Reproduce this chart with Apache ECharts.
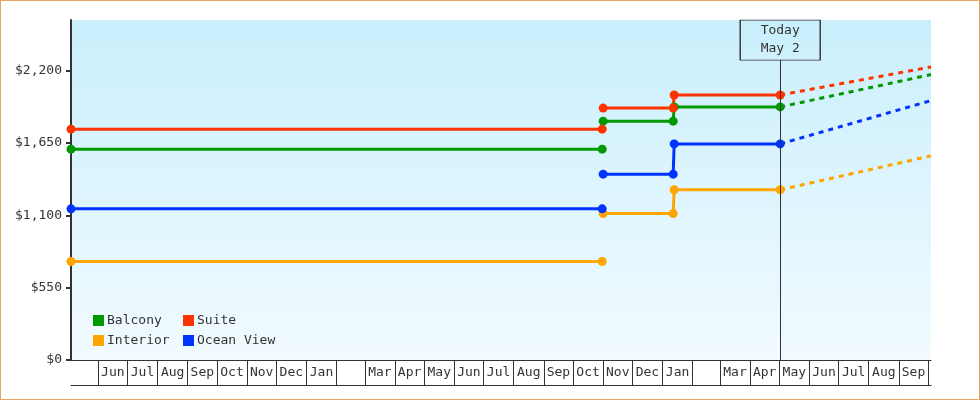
<!DOCTYPE html>
<html>
<head>
<meta charset="utf-8">
<script src="https://cdn.jsdelivr.net/npm/echarts@6.0.0/dist/echarts.min.js"></script>
<style>
  html, body { margin: 0; padding: 0; background: #ffffff; }
  #chart { width: 980px; height: 400px; box-sizing: border-box; border: 1px solid #e9a862; background: #ffffff; }
</style>
</head>
<body>
<div id="chart"></div>
<script>
// ---------------- DATA ----------------
const seriesNames   = ['Balcony', 'Suite', 'Interior', 'Ocean View'];
const seriesColors  = ['#009900', '#ff3300', '#ffa500', '#0033ff'];

// price periods: [start, end] ; period 1 -> 2 is not connected, 2 -> 3 is connected
const periodStarts  = ['2023-05-04', '2024-11-01', '2025-01-13'];
const periodEnds    = ['2024-10-31', '2025-01-12', '2025-05-02'];
const periodJoined  = [false, true];

const balconyPrices   = [1603, 1816, 1924];
const suitePrices     = [1755, 1915, 2015];
const interiorPrices  = [749, 1114, 1294];
const oceanViewPrices = [1149, 1413, 1643];

// forecast (dashed) end values
const forecastDate    = '2025-10-04';
const forecastPrices  = [2170, 2228, 1552, 1972];

const todayDate  = '2025-05-02';
const todayLabel = 'Today\nMay 2';

const axisStart = '2023-05-04';
const axisEnd   = '2025-10-04';

const monthStarts = ['2023-06-01','2023-07-01','2023-08-01','2023-09-01','2023-10-01','2023-11-01','2023-12-01',
  '2024-01-01','2024-02-01','2024-03-01','2024-04-01','2024-05-01','2024-06-01','2024-07-01','2024-08-01',
  '2024-09-01','2024-10-01','2024-11-01','2024-12-01','2025-01-01','2025-02-01','2025-03-01','2025-04-01',
  '2025-05-01','2025-06-01','2025-07-01','2025-08-01','2025-09-01','2025-10-01'];
const monthLabels = ['Jun','Jul','Aug','Sep','Oct','Nov','Dec','Jan','','Mar','Apr','May','Jun','Jul','Aug',
  'Sep','Oct','Nov','Dec','Jan','','Mar','Apr','May','Jun','Jul','Aug','Sep'];

const yTicks = [0, 550, 1100, 1650, 2200];
const yMax = 2585;
const todayBoxValue = 2432;   // annotation box centre (value units)
const todayLineTop  = 2281;   // annotation line top (value units)

// ---------------- BUILD ----------------
function ts(s) { const p = s.split('-').map(Number); return new Date(p[0], p[1] - 1, p[2]).getTime(); }
const allPrices = [balconyPrices, suitePrices, interiorPrices, oceanViewPrices];
const FONT = '"DejaVu Sans Mono", "Liberation Mono", monospace';
const TXT = '#333333';

const labelMap = new Map();
const labelValues = [];
for (let i = 0; i < monthLabels.length; i++) {
  if (!monthLabels[i]) continue;
  const mid = Math.round((ts(monthStarts[i]) + ts(monthStarts[i + 1])) / 2);
  labelValues.push(mid);
  labelMap.set(mid, monthLabels[i]);
}
const tickValues = monthStarts.map(ts);

function buildMain(prices) {
  const d = [];
  for (let i = 0; i < prices.length; i++) {
    d.push([ts(periodStarts[i]), prices[i]]);
    d.push([ts(periodEnds[i]), prices[i]]);
    if (i < periodJoined.length && !periodJoined[i]) d.push([ts(periodEnds[i]), null]);
  }
  return d;
}

const series = [];
// forecast dashed lines first (drawn under markers)
seriesNames.forEach((name, k) => {
  const p = allPrices[k];
  series.push({
    name: name, type: 'line', symbol: 'none', silent: true,
    data: [[ts(todayDate), p[p.length - 1]], [ts(forecastDate), forecastPrices[k]]],
    lineStyle: { color: seriesColors[k], width: 3, type: [5, 5] },
    itemStyle: { color: seriesColors[k] }
  });
});
seriesNames.forEach((name, k) => {
  const s = {
    name: name, type: 'line', connectNulls: false,
    data: buildMain(allPrices[k]),
    symbol: 'circle', symbolSize: 9, showAllSymbol: true,
    lineStyle: { color: seriesColors[k], width: 3 },
    itemStyle: { color: seriesColors[k] },
    z: 3
  };
  if (k === 0) {
    s.markLine = {
      silent: true, symbol: ['none', 'none'], animation: false,
      label: { show: false },
      lineStyle: { color: '#333333', width: 1, type: 'solid' },
      data: [[{ coord: [ts(todayDate), 0] }, { coord: [ts(todayDate), todayLineTop] }]]
    };
    s.markPoint = {
      silent: true, animation: false,
      symbol: 'rect', symbolSize: [80, 40],
      itemStyle: { color: 'rgba(0,0,0,0)', borderColor: '#333333', borderWidth: 1 },
      label: { show: true, position: 'inside', formatter: todayLabel, color: TXT,
               fontFamily: FONT, fontSize: 13, lineHeight: 18 },
      data: [{ coord: [ts(todayDate), todayBoxValue] }]
    };
  }
  series.push(s);
});

const legendText = { color: TXT, fontFamily: FONT, fontSize: 13, padding: [0, 0, 0, -2] };
const legendPos = [[92, 313], [182, 313], [92, 333], [182, 333]];
const legends = seriesNames.map((n, k) => ({
  data: [n], left: legendPos[k][0], top: legendPos[k][1], orient: 'horizontal',
  icon: 'rect', itemWidth: 11, itemHeight: 11, padding: 0, textStyle: legendText
}));

const option = {
  animation: false,
  backgroundColor: '#ffffff',
  grid: {
    left: 70, right: 48, top: 19, bottom: 39, show: true, borderWidth: 0,
    backgroundColor: new echarts.graphic.LinearGradient(0, 0, 0, 1, [
      { offset: 0, color: '#c9effc' }, { offset: 1, color: '#f2fbff' }
    ])
  },
  legend: legends,
  xAxis: [
    {
      type: 'value', min: ts(axisStart), max: ts(axisEnd),
      axisLine: { show: true, lineStyle: { color: '#333333', width: 1 } },
      axisTick: { show: true, length: 25, inside: false, customValues: tickValues,
                  lineStyle: { color: '#333333', width: 1 } },
      axisLabel: { show: true, customValues: labelValues, margin: 6, color: TXT,
                   fontFamily: FONT, fontSize: 13,
                   formatter: function (v) { return labelMap.get(v) || ''; } },
      splitLine: { show: false }
    },
    {
      type: 'value', min: ts(axisStart), max: ts(axisEnd), position: 'bottom', offset: 25,
      axisLine: { show: true, lineStyle: { color: '#333333', width: 1 } },
      axisTick: { show: false }, axisLabel: { show: false }, splitLine: { show: false }
    }
  ],
  yAxis: {
    type: 'value', min: 0, max: yMax,
    axisLine: { show: true, lineStyle: { color: '#333333', width: 2 } },
    axisTick: { show: true, length: 5, customValues: yTicks, lineStyle: { color: '#333333', width: 2 } },
    axisLabel: { show: true, customValues: yTicks, margin: 9, color: TXT, fontFamily: FONT, fontSize: 13,
                 formatter: function (v) { return '$' + Number(v).toLocaleString('en-US'); } },
    splitLine: { show: false }
  },
  series: series
};

const chart = echarts.init(document.getElementById('chart'), null, { renderer: 'canvas' });
chart.setOption(option);
</script>
</body>
</html>
